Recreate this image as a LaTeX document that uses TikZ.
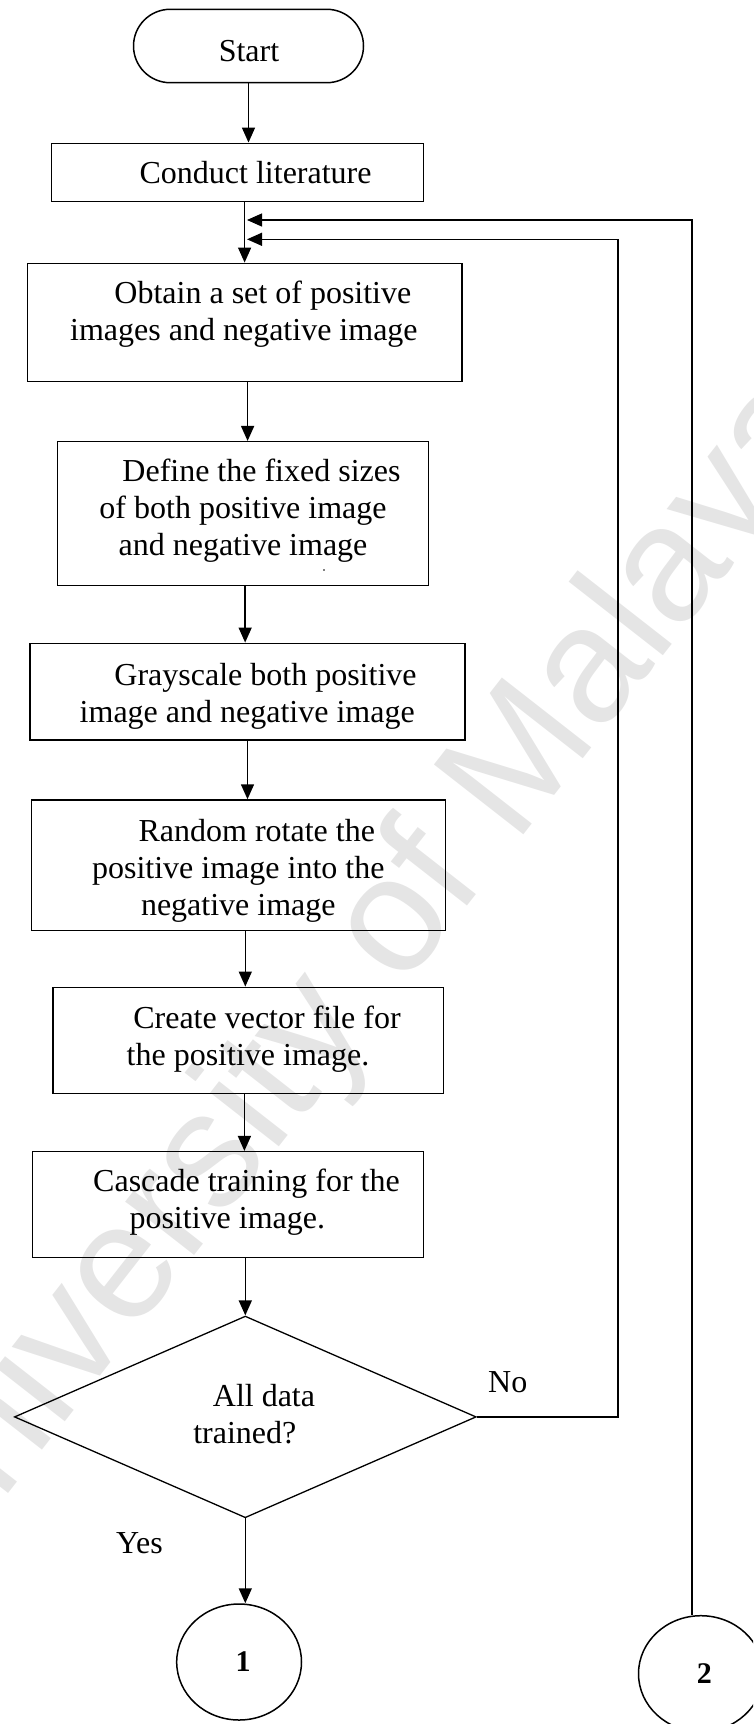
\documentclass[tikz,border=0pt]{standalone}
\usepackage{fontspec}
\setmainfont{Liberation Serif}
\newfontfamily\wmfont{Liberation Sans}
\usetikzlibrary{arrows.meta,shapes.geometric,shapes.misc}

\begin{document}
\begin{tikzpicture}[x=1pt,y=-1pt,
  line width=1.5pt,
  stepbox/.style={draw, rectangle, inner sep=0pt},
  txt/.style={align=center, inner sep=0pt, font=\fontsize{32}{37}\selectfont},
  arr/.style={-{Triangle[length=15pt,width=13pt]}},
  conn/.style={draw, ellipse, inner sep=0pt, minimum width=124.8pt, minimum height=116pt,
               font=\fontsize{30}{34}\selectfont\bfseries}]

\useasboundingbox (0,0) rectangle (753,1724);
\clip (0,0) rectangle (753,1724);

% watermark
\node[rotate=52, text=black!10, inner sep=0pt,
      font=\wmfont\fontsize{165}{165}\selectfont] (wm) at (352,985) {University of Malaya};

% terminal
\node[draw, rounded rectangle, minimum width=230pt, minimum height=73.4pt, inner sep=0pt] (start) at (248.5,46) {};
\node[txt] (startT) at (249,54.3) {\strut Start};

% process boxes
\node[stepbox, minimum width=372pt, minimum height=58.4pt] (conduct) at (237.4,172.5) {};
\node[txt] (conductT) at (255.6,175.9) {\strut Conduct literature};

\node[stepbox, minimum width=434.4pt, minimum height=118.4pt] (obtain) at (244.6,322.5) {};
\node[txt] (obtainT) at (243.9,314.4) {\hspace*{38pt}\strut Obtain a set of positive\\\strut images and negative image};

\node[stepbox, minimum width=371.1pt, minimum height=144pt] (define) at (243.15,513.7) {};
\node[txt] (defineT) at (243,511.3) {\hspace*{37pt}\strut Define the fixed sizes\\\strut of both positive image\\\strut and negative image};
\fill (324,570) circle (0.9);

\node[stepbox, minimum width=435.4pt, minimum height=96.7pt] (gray) at (247.5,691.65) {};
\node[txt] (grayT) at (247.2,696.3) {\hspace*{36.6pt}\strut Grayscale both positive\\\strut image and negative image};

\node[stepbox, minimum width=413.8pt, minimum height=130.7pt] (random) at (238.6,865.35) {};
\node[txt] (randomT) at (238.3,871) {\hspace*{37pt}\strut Random rotate the\\\strut positive image into the\\\strut negative image};

\node[stepbox, minimum width=390.8pt, minimum height=106pt] (create) at (248.2,1040.3) {};
\node[txt] (createT) at (248,1039.4) {\hspace*{38pt}\strut Create vector file for\\\strut the positive image.};

\node[stepbox, minimum width=390.8pt, minimum height=105.6pt] (cascade) at (228,1204.5) {};
\node[txt] (cascadeT) at (227.3,1202.8) {\hspace*{38.4pt}\strut Cascade training for the\\\strut positive image.};

% decision
\node[draw, diamond, minimum width=461.8pt, minimum height=201.7pt, inner sep=0pt, line width=1.3pt] (dec) at (245.3,1416.9) {};
\node[txt] (decT) at (244.8,1417.4) {\hspace*{38.4pt}\strut All data\\\strut trained?};

\node[txt] (noT) at (507.7,1385.3) {\strut No};
\node[txt] (yesT) at (139.5,1545.9) {\strut Yes};

% off-page connectors
\node[conn] (c1) at (239.1,1662) {\hspace*{8pt}1};
\node[conn] (c2) at (700.9,1673.7) {\hspace*{7pt}2};

% main flow
\draw[arr] (start.south) -- (start.south |- conduct.north);
\draw[arr] (conduct.south -| obtain.north) -- (obtain.north);
\draw[arr] ([xshift=3pt]obtain.south) -- ([xshift=3pt]obtain.south |- define.north);
\draw[arr] ([xshift=2pt]define.south) -- ([xshift=2pt]define.south |- gray.north);
\draw[arr] (gray.south) -- (gray.south |- random.north);
\draw[arr] ([xshift=6.7pt]random.south) -- ([xshift=6.7pt]random.south |- create.north);
\draw[arr] ([xshift=-3.8pt]create.south) -- ([xshift=-3.8pt]create.south |- cascade.north);
\draw[arr] (cascade.south -| dec.north) -- (dec.north);
\draw[arr] (dec.south) -- (dec.south |- c1.north);

% return paths
\coordinate (noCorner) at (618,239.3);
\coordinate (noTip) at (247,239.3);
\coordinate (twoCorner) at (692,220);
\coordinate (twoTip) at (247,220);
\draw[arr, line width=1.3pt] (dec.east) -| (noCorner) -- (noTip);
\draw[arr, line width=1.3pt] (twoCorner |- c2.north) -- (twoCorner) -- (twoTip);

\end{tikzpicture}
\end{document}
